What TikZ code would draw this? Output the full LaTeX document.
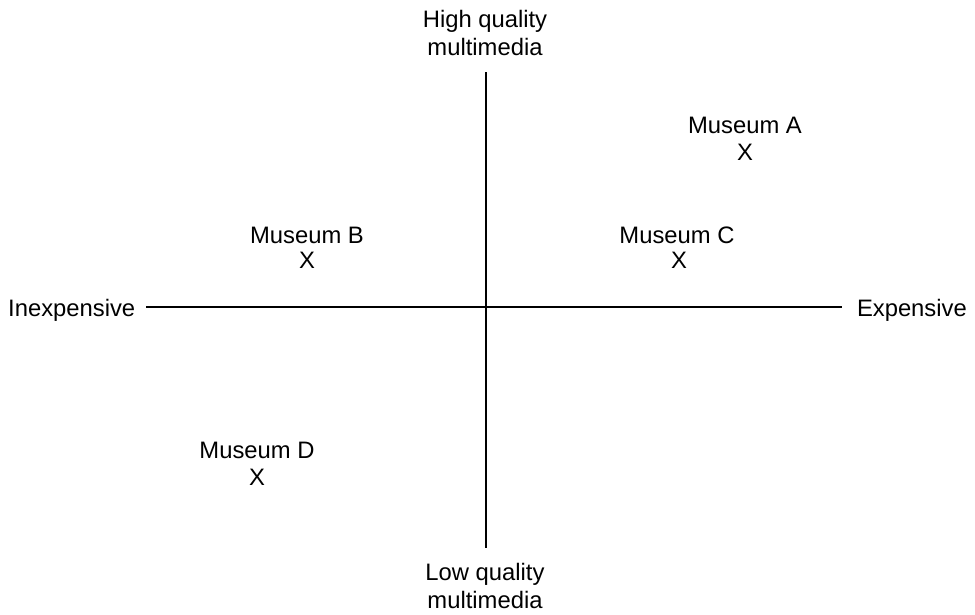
\documentclass[tikz,border=0pt]{standalone}
\usepackage{fontspec}
\setmainfont{Liberation Sans}
\begin{document}
\begin{tikzpicture}[x=1pt,y=-1pt,
  lbl/.style={inner sep=0pt,anchor=base,font=\fontsize{23.8}{28}\selectfont,align=center},
  axis/.style={line width=2.8pt}]
\useasboundingbox (0,0) rectangle (975,614);
% axis labels
\node[lbl] (hq) at (485,55) {High quality\\multimedia};
\node[lbl] (lq) at (485,608) {Low quality\\multimedia};
\node[lbl,anchor=base west] (inexp) at (8,316) {Inexpensive};
\node[lbl,anchor=base east] (exp) at (967,316) {Expensive};
% axes
\coordinate (L) at (146,307);
\coordinate (R) at (842,307);
\coordinate (T) at (486,72);
\coordinate (B) at (486,548);
\draw[axis] (L) -- (R);
\draw[axis] (T) -- (B);
% museums
\node[lbl] (ma) at (745,133) {Museum A};
\node[lbl] (xa) at (745,160) {X};
\node[lbl] (mb) at (307,243) {Museum B};
\node[lbl] (xb) at (307,268) {X};
\node[lbl] (mc) at (677,243) {Museum C};
\node[lbl] (xc) at (679,268) {X};
\node[lbl] (md) at (257,458) {Museum D};
\node[lbl] (xd) at (257,485) {X};
\end{tikzpicture}
\end{document}
